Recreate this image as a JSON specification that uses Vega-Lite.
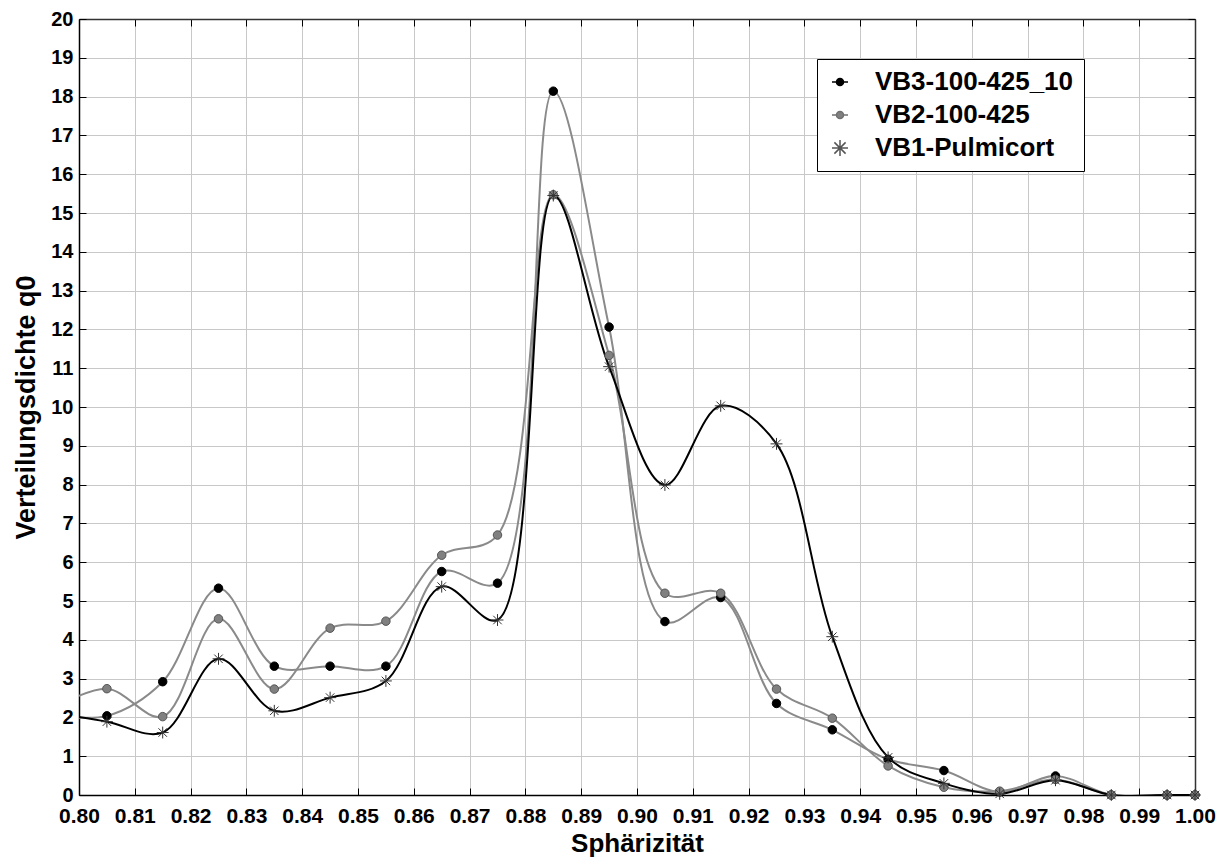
{
  "$schema": "https://vega.github.io/schema/vega-lite/v6.json",
  "width": 1116,
  "height": 776,
  "autosize": {"type": "none"},
  "padding": {"left": 79, "top": 19, "right": 26, "bottom": 66},
  "background": "white",
  "config": {"view": {"stroke": null}, "font": "Liberation Sans"},
  "data": {"values": [
    {"s": "VB3-100-425_10", "x": 0.795, "y": 2.06},
    {"s": "VB3-100-425_10", "x": 0.805, "y": 2.04},
    {"s": "VB3-100-425_10", "x": 0.815, "y": 2.92},
    {"s": "VB3-100-425_10", "x": 0.825, "y": 5.33},
    {"s": "VB3-100-425_10", "x": 0.835, "y": 3.32},
    {"s": "VB3-100-425_10", "x": 0.845, "y": 3.32},
    {"s": "VB3-100-425_10", "x": 0.855, "y": 3.32},
    {"s": "VB3-100-425_10", "x": 0.865, "y": 5.76},
    {"s": "VB3-100-425_10", "x": 0.875, "y": 5.46},
    {"s": "VB3-100-425_10", "x": 0.885, "y": 18.14},
    {"s": "VB3-100-425_10", "x": 0.895, "y": 12.06},
    {"s": "VB3-100-425_10", "x": 0.905, "y": 4.47},
    {"s": "VB3-100-425_10", "x": 0.915, "y": 5.09},
    {"s": "VB3-100-425_10", "x": 0.925, "y": 2.36},
    {"s": "VB3-100-425_10", "x": 0.935, "y": 1.68},
    {"s": "VB3-100-425_10", "x": 0.945, "y": 0.92},
    {"s": "VB3-100-425_10", "x": 0.955, "y": 0.63},
    {"s": "VB3-100-425_10", "x": 0.965, "y": 0.08},
    {"s": "VB3-100-425_10", "x": 0.975, "y": 0.49},
    {"s": "VB3-100-425_10", "x": 0.985, "y": 0},
    {"s": "VB3-100-425_10", "x": 0.995, "y": 0},
    {"s": "VB3-100-425_10", "x": 1.0, "y": 0},
    {"s": "VB2-100-425", "x": 0.795, "y": 2.2},
    {"s": "VB2-100-425", "x": 0.805, "y": 2.74},
    {"s": "VB2-100-425", "x": 0.815, "y": 2.02},
    {"s": "VB2-100-425", "x": 0.825, "y": 4.54},
    {"s": "VB2-100-425", "x": 0.835, "y": 2.73},
    {"s": "VB2-100-425", "x": 0.845, "y": 4.30},
    {"s": "VB2-100-425", "x": 0.855, "y": 4.48},
    {"s": "VB2-100-425", "x": 0.865, "y": 6.18},
    {"s": "VB2-100-425", "x": 0.875, "y": 6.70},
    {"s": "VB2-100-425", "x": 0.885, "y": 15.47},
    {"s": "VB2-100-425", "x": 0.895, "y": 11.33},
    {"s": "VB2-100-425", "x": 0.905, "y": 5.20},
    {"s": "VB2-100-425", "x": 0.915, "y": 5.20},
    {"s": "VB2-100-425", "x": 0.925, "y": 2.73},
    {"s": "VB2-100-425", "x": 0.935, "y": 1.98},
    {"s": "VB2-100-425", "x": 0.945, "y": 0.75},
    {"s": "VB2-100-425", "x": 0.955, "y": 0.20},
    {"s": "VB2-100-425", "x": 0.965, "y": 0.10},
    {"s": "VB2-100-425", "x": 0.975, "y": 0.40},
    {"s": "VB2-100-425", "x": 0.985, "y": 0},
    {"s": "VB2-100-425", "x": 0.995, "y": 0},
    {"s": "VB2-100-425", "x": 1.0, "y": 0},
    {"s": "VB1-Pulmicort", "x": 0.795, "y": 2.12},
    {"s": "VB1-Pulmicort", "x": 0.805, "y": 1.89},
    {"s": "VB1-Pulmicort", "x": 0.815, "y": 1.61},
    {"s": "VB1-Pulmicort", "x": 0.825, "y": 3.51},
    {"s": "VB1-Pulmicort", "x": 0.835, "y": 2.17},
    {"s": "VB1-Pulmicort", "x": 0.845, "y": 2.51},
    {"s": "VB1-Pulmicort", "x": 0.855, "y": 2.94},
    {"s": "VB1-Pulmicort", "x": 0.865, "y": 5.37},
    {"s": "VB1-Pulmicort", "x": 0.875, "y": 4.51},
    {"s": "VB1-Pulmicort", "x": 0.885, "y": 15.45},
    {"s": "VB1-Pulmicort", "x": 0.895, "y": 11.04},
    {"s": "VB1-Pulmicort", "x": 0.905, "y": 7.99},
    {"s": "VB1-Pulmicort", "x": 0.915, "y": 10.03},
    {"s": "VB1-Pulmicort", "x": 0.925, "y": 9.05},
    {"s": "VB1-Pulmicort", "x": 0.935, "y": 4.08},
    {"s": "VB1-Pulmicort", "x": 0.945, "y": 0.97},
    {"s": "VB1-Pulmicort", "x": 0.955, "y": 0.30},
    {"s": "VB1-Pulmicort", "x": 0.965, "y": 0.03},
    {"s": "VB1-Pulmicort", "x": 0.975, "y": 0.38},
    {"s": "VB1-Pulmicort", "x": 0.985, "y": 0},
    {"s": "VB1-Pulmicort", "x": 0.995, "y": 0},
    {"s": "VB1-Pulmicort", "x": 1.0, "y": 0}
  ]},
  "layer": [
    {
      "mark": {"type": "line", "interpolate": "catmull-rom", "clip": true, "strokeWidth": 2},
      "encoding": {
        "x": {"field": "x", "type": "quantitative", "scale": {"domain": [0.8, 1.0], "nice": false, "zero": false},
          "axis": {"orient": "bottom", "values": [0.8, 0.81, 0.82, 0.83, 0.84, 0.85, 0.86, 0.87, 0.88, 0.89, 0.9, 0.91, 0.92, 0.93, 0.94, 0.95, 0.96, 0.97, 0.98, 0.99, 1.0],
            "format": ".2f", "labelFont": "Liberation Sans", "labelFontWeight": "bold", "labelFontSize": 21, "labelColor": "black",
            "labelFlush": false, "labelOverlap": false, "tickSize": -7, "tickColor": "black", "labelPadding": 17,
            "domainColor": "black", "domainWidth": 1.5, "grid": true, "gridColor": "#c8c8c8", "gridWidth": 1,
            "title": "Sphärizität", "titleFont": "Liberation Sans", "titleFontSize": 26, "titleFontWeight": "bold", "titleColor": "black", "titlePadding": 4}},
        "y": {"field": "y", "type": "quantitative", "scale": {"domain": [0, 20], "nice": false},
          "axis": {"orient": "left", "values": [0, 1, 2, 3, 4, 5, 6, 7, 8, 9, 10, 11, 12, 13, 14, 15, 16, 17, 18, 19, 20],
            "labelFont": "Liberation Sans", "labelFontWeight": "bold", "labelFontSize": 20, "labelColor": "black",
            "labelFlush": false, "labelOverlap": false, "tickSize": -7, "tickColor": "black", "labelPadding": 13,
            "domainColor": "black", "domainWidth": 1.5, "grid": true, "gridColor": "#c8c8c8", "gridWidth": 1,
            "title": "Verteilungsdichte q0", "titleFont": "Liberation Sans", "titleFontSize": 27, "titleFontWeight": "bold", "titleColor": "black", "titlePadding": 10}},
        "color": {"field": "s", "type": "nominal", "scale": {"domain": ["VB3-100-425_10", "VB2-100-425", "VB1-Pulmicort"], "range": ["#8a8a8a", "#8a8a8a", "#000000"]}, "legend": null}
      }
    },
    {
      "transform": [{"filter": "datum.x >= 0.8"}],
      "mark": {"type": "point", "filled": true, "strokeWidth": 1, "size": 72, "opacity": 1},
      "encoding": {
        "x": {"field": "x", "type": "quantitative", "axis": null},
        "y": {"field": "y", "type": "quantitative", "axis": null},
        "shape": {"field": "s", "type": "nominal", "scale": {"domain": ["VB3-100-425_10", "VB2-100-425", "VB1-Pulmicort"], "range": ["circle", "circle", "M-1.4,0L1.4,0M0,-1.4L0,1.4M-1,-1L1,1M-1,1L1,-1"]}, "legend": null},
        "fill": {"field": "s", "type": "nominal", "scale": {"domain": ["VB3-100-425_10", "VB2-100-425", "VB1-Pulmicort"], "range": ["#000000", "#808080", "transparent"]}, "legend": null},
        "stroke": {"field": "s", "type": "nominal", "scale": {"domain": ["VB3-100-425_10", "VB2-100-425", "VB1-Pulmicort"], "range": ["#000000", "#555555", "#333333"]}, "legend": null}
      }
    },
    {
      "transform": [{"filter": "datum.x < 0.8"}],
      "mark": {"type": "point", "filled": true, "clip": true, "strokeWidth": 1.5, "size": 256, "opacity": 1},
      "encoding": {
        "x": {"field": "x", "type": "quantitative", "axis": {"orient": "top", "labels": false, "grid": false, "tickSize": -7, "tickColor": "black", "domainColor": "#333333", "domainWidth": 1.5, "title": null, "values": [0.8, 0.81, 0.82, 0.83, 0.84, 0.85, 0.86, 0.87, 0.88, 0.89, 0.9, 0.91, 0.92, 0.93, 0.94, 0.95, 0.96, 0.97, 0.98, 0.99, 1.0]}},
        "y": {"field": "y", "type": "quantitative", "axis": {"orient": "right", "labels": false, "grid": false, "tickSize": -7, "tickColor": "black", "domainColor": "#333333", "domainWidth": 1.5, "title": null, "values": [0, 1, 2, 3, 4, 5, 6, 7, 8, 9, 10, 11, 12, 13, 14, 15, 16, 17, 18, 19, 20]}},
        "shape": {"field": "s", "type": "nominal", "scale": {"domain": ["VB3-100-425_10", "VB2-100-425", "VB1-Pulmicort"], "range": ["M-1,0L-0.44,0M0.44,0L1,0M-0.44,0A0.44,0.44 0 1,1 0.44,0A0.44,0.44 0 1,1 -0.44,0Z", "M-1,0L-0.44,0M0.44,0L1,0M-0.44,0A0.44,0.44 0 1,1 0.44,0A0.44,0.44 0 1,1 -0.44,0Z", "M-1,0L1,0M0,-1L0,1M-0.7,-0.7L0.7,0.7M-0.7,0.7L0.7,-0.7"]},
          "legend": {"orient": "none", "legendX": 738, "legendY": 40, "title": null, "strokeColor": "black", "fillColor": "white", "padding": 10,
            "labelFont": "Liberation Sans", "labelFontWeight": "bold", "labelFontSize": 26, "labelColor": "black", "labelOffset": 22, "rowPadding": 7, "symbolSize": 256, "symbolStrokeWidth": 1.5, "labelLimit": 400}},
        "fill": {"field": "s", "type": "nominal", "scale": {"domain": ["VB3-100-425_10", "VB2-100-425", "VB1-Pulmicort"], "range": ["#000000", "#808080", "transparent"]}},
        "stroke": {"field": "s", "type": "nominal", "scale": {"domain": ["VB3-100-425_10", "VB2-100-425", "VB1-Pulmicort"], "range": ["#000000", "#707070", "#555555"]}}
      }
    }
  ],
  "resolve": {
    "axis": {"x": "independent", "y": "independent"},
    "scale": {"shape": "independent", "fill": "independent", "stroke": "independent"},
    "legend": {"shape": "independent", "fill": "independent", "stroke": "independent"}
  }
}
